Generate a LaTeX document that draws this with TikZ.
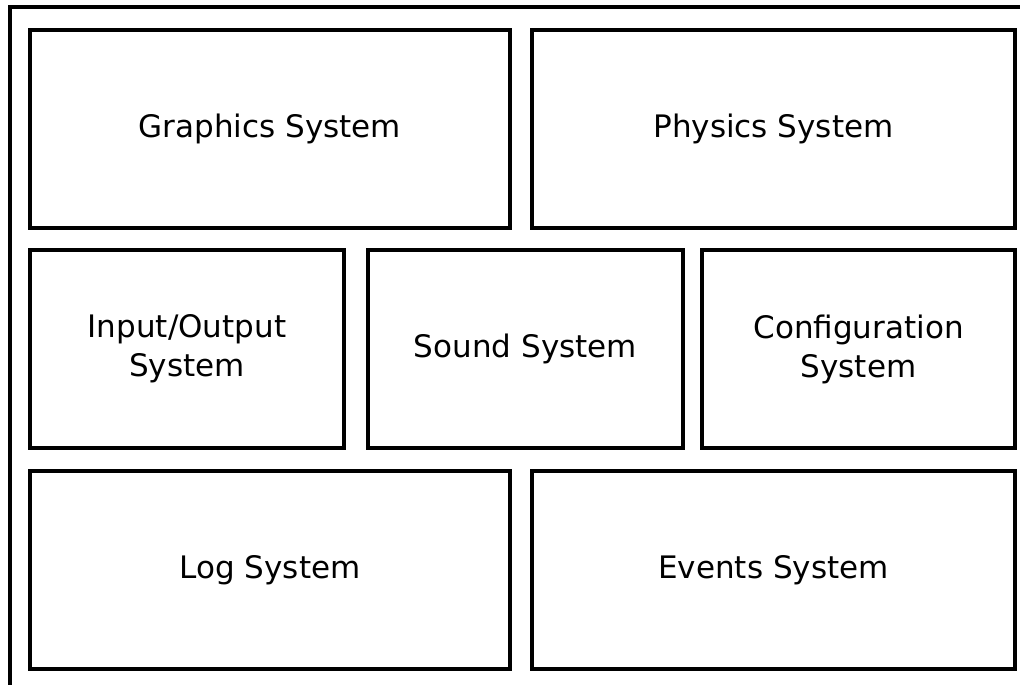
\documentclass[tikz,border=0pt]{standalone}
\usepackage{fontspec}
\setmainfont{DejaVu Sans}
\begin{document}
\begin{tikzpicture}[x=1pt,y=-1pt,
  sysbox/.style={draw=black,line width=3.2pt,line join=miter,fill=white,
    inner sep=0pt,align=center,
    font=\fontsize{31}{39}\selectfont},
  frame/.style={draw=black,line width=3.2pt}]
\useasboundingbox (0,0) rectangle (1020,685);
% outer container, open on the right and at the bottom
\coordinate (fb) at (10,690);
\coordinate (fc) at (10,7);
\coordinate (fr) at (1025,7);
\draw[frame] (fb) -- (fc) -- (fr);
% subsystem boxes
\newcommand{\sysnode}[6]{%
  \node[sysbox,minimum width=#4-#2,minimum height=#5-#3] (#1) at ({(#2+#4)/2},{(#3+#5)/2}) {#6};}
\sysnode{gfx}{30}{30}{510}{228}{Graphics System}
\sysnode{phy}{532}{30}{1015}{228}{Physics System}
\sysnode{io}{30}{250}{344}{448}{Input/Output\\System}
\sysnode{snd}{368}{250}{683}{448}{Sound System}
\sysnode{cfg}{702}{250}{1015}{448}{Configuration\\System}
\sysnode{log}{30}{471}{510}{669}{Log System}
\sysnode{evt}{532}{471}{1015}{669}{Events System}
\end{tikzpicture}
\end{document}
